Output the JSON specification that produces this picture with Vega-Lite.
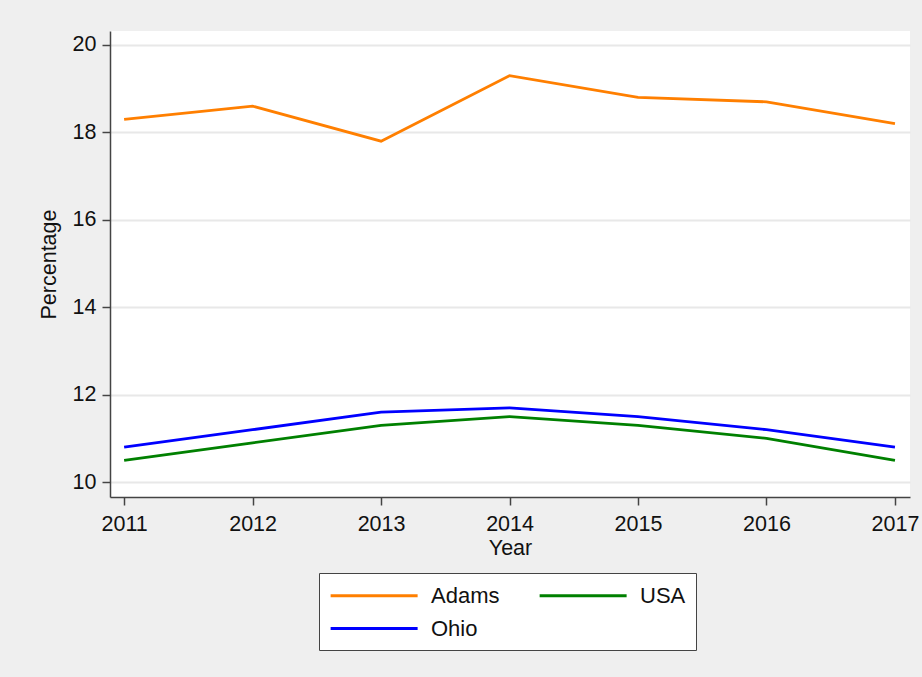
{
  "$schema": "https://vega.github.io/schema/vega-lite/v6.json",
  "autosize": "none",
  "width": 800,
  "height": 466,
  "padding": {"left": 110, "top": 31, "right": 12, "bottom": 180},
  "background": "#efefef",
  "config": {
    "view": {"stroke": null, "fill": "white"},
    "font": "Liberation Sans",
    "axis": {
      "domainColor": "#444",
      "domainWidth": 1.5,
      "tickColor": "#444",
      "tickWidth": 1.5,
      "tickSize": 8,
      "labelFont": "Liberation Sans",
      "titleFont": "Liberation Sans",
      "labelColor": "#111",
      "titleColor": "#111",
      "labelFontSize": 21.5,
      "titleFontSize": 21.5,
      "titleFontWeight": "normal",
      "gridColor": "#e8e8e8",
      "gridWidth": 2
    },
    "legend": {
      "labelFont": "Liberation Sans",
      "labelFontSize": 22,
      "labelColor": "#111"
    }
  },
  "data": {
    "values": [
      {"year": 2011, "series": "Adams", "value": 18.3},
      {"year": 2012, "series": "Adams", "value": 18.6},
      {"year": 2013, "series": "Adams", "value": 17.8},
      {"year": 2014, "series": "Adams", "value": 19.3},
      {"year": 2015, "series": "Adams", "value": 18.8},
      {"year": 2016, "series": "Adams", "value": 18.7},
      {"year": 2017, "series": "Adams", "value": 18.2},
      {"year": 2011, "series": "Ohio", "value": 10.8},
      {"year": 2012, "series": "Ohio", "value": 11.2},
      {"year": 2013, "series": "Ohio", "value": 11.6},
      {"year": 2014, "series": "Ohio", "value": 11.7},
      {"year": 2015, "series": "Ohio", "value": 11.5},
      {"year": 2016, "series": "Ohio", "value": 11.2},
      {"year": 2017, "series": "Ohio", "value": 10.8},
      {"year": 2011, "series": "USA", "value": 10.5},
      {"year": 2012, "series": "USA", "value": 10.9},
      {"year": 2013, "series": "USA", "value": 11.3},
      {"year": 2014, "series": "USA", "value": 11.5},
      {"year": 2015, "series": "USA", "value": 11.3},
      {"year": 2016, "series": "USA", "value": 11.0},
      {"year": 2017, "series": "USA", "value": 10.5}
    ]
  },
  "mark": {"type": "line", "strokeWidth": 2.8},
  "encoding": {
    "x": {
      "field": "year",
      "type": "quantitative",
      "title": "Year",
      "scale": {"domain": [2010.89, 2017.117], "nice": false, "zero": false},
      "axis": {"values": [2011, 2012, 2013, 2014, 2015, 2016, 2017], "format": "d", "grid": false, "labelPadding": 8, "titlePadding": 3, "labelFlush": false}
    },
    "y": {
      "field": "value",
      "type": "quantitative",
      "title": "Percentage",
      "scale": {"domain": [9.66, 20.32], "nice": false, "zero": false},
      "axis": {"values": [10, 12, 14, 16, 18, 20], "grid": true, "labelPadding": 6, "titlePadding": 12}
    },
    "color": {
      "field": "series",
      "type": "nominal",
      "scale": {"domain": ["Adams", "USA", "Ohio"], "range": ["#ff7f00", "#008000", "#0000ff"]},
      "legend": {
        "title": null,
        "orient": "none",
        "legendX": 209,
        "legendY": 542,
        "columns": 2,
        "direction": "horizontal",
        "symbolType": "M-1,0H7",
        "symbolSize": 473,
        "symbolStrokeWidth": 3,
        "symbolFillColor": "transparent",
        "labelOffset": 77,
        "columnPadding": 33,
        "rowPadding": 9,
        "padding": 10,
        "fillColor": "white",
        "strokeColor": "#444"
      }
    }
  }
}
